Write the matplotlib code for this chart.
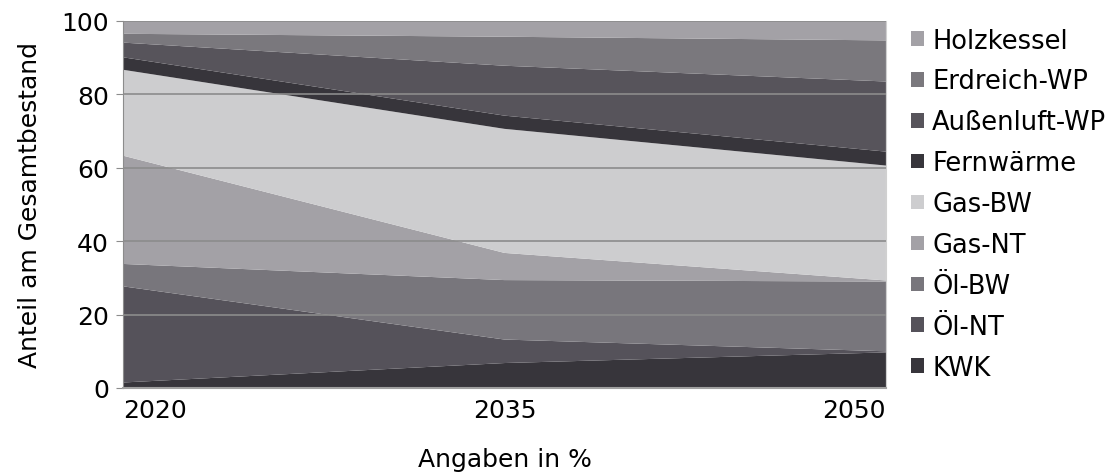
import matplotlib.pyplot as plt
from matplotlib.patches import Patch

years = ["2020", "2035", "2050"]
labels = ["KWK", "Öl-NT", "Öl-BW", "Gas-NT", "Gas-BW",
          "Fernwärme", "Außenluft-WP", "Erdreich-WP", "Holzkessel"]
kwk = [1.5, 6.8, 9.7]
oel_nt = [26.2, 6.4, 0.3]
oel_bw = [6.1, 16.2, 19.0]
gas_nt = [29.5, 7.4, 0.3]
gas_bw = [23.4, 33.8, 31.3]
fernwaerme = [3.4, 3.6, 3.8]
aussenluft = [4.0, 13.6, 19.1]
erdreich = [2.4, 7.9, 11.2]
holz = [3.5, 4.3, 5.3]

colors = ["#37353b", "#55525a", "#78767c", "#a3a1a6", "#cdcdcf",
          "#37353b", "#57545b", "#7a787d", "#a3a1a6"]

plt.rcParams["font.family"] = ["DejaVu Sans"]

fig = plt.figure(figsize=(11.13, 4.77), dpi=100)
ax = fig.add_axes([0.1105, 0.1845, 0.6855, 0.7695])

x = list(range(len(years)))
series = [kwk, oel_nt, oel_bw, gas_nt, gas_bw, fernwaerme, aussenluft, erdreich, holz]
ax.stackplot(x, *series, colors=colors, linewidth=0)

ax.set_xlim(0, 2)
ax.set_ylim(0, 100)
ax.set_yticks([0, 20, 40, 60, 80, 100])
ax.set_xticks(x)
ax.set_xticklabels(years)
for yv in [20, 40, 60, 80, 100]:
    ax.axhline(yv, color="#8c8c8c", linewidth=1.2, zorder=3)

ax.spines["top"].set_visible(False)
ax.spines["right"].set_color("#d0d0d0")
ax.spines["left"].set_color("#8c8c8c")
ax.spines["bottom"].set_color("#a0a0a0")
ax.spines["bottom"].set_linewidth(1.5)
ax.tick_params(axis="y", length=5, color="#8c8c8c", labelsize=18, pad=5)
ax.tick_params(axis="x", length=0, labelsize=18, pad=7)
ax.get_xticklabels()[0].set_horizontalalignment("left")
ax.get_xticklabels()[-1].set_horizontalalignment("right")

ax.set_ylabel("Anteil am Gesamtbestand", fontsize=18, labelpad=14)
ax.set_xlabel("Angaben in %", fontsize=18, labelpad=18)

handles = [Patch(facecolor=c, edgecolor="none") for c in colors][::-1]
ax.legend(handles, labels[::-1], loc="upper left", bbox_to_anchor=(1.02, 1.01),
          frameon=False, fontsize=18.5, handlelength=0.5, handleheight=0.5,
          handletextpad=0.3, labelspacing=0.58, borderaxespad=0)

fig.savefig("out.png", dpi=100)
